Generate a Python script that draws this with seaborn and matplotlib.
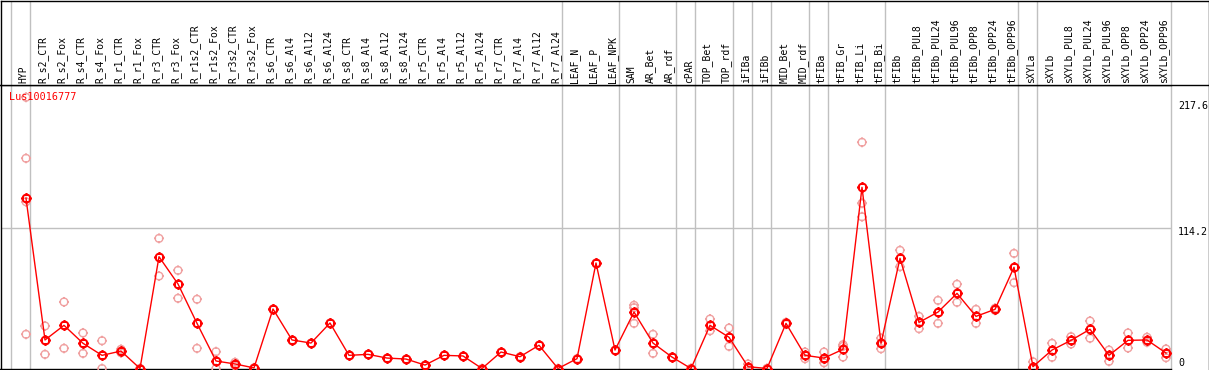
import numpy as np
import pandas as pd
import matplotlib
matplotlib.use("Agg")
import matplotlib.pyplot as plt
from matplotlib.path import Path
from matplotlib.lines import Line2D
import seaborn as sns

nan = np.nan

samples = ["HYP", "R_s2_CTR", "R_s2_Fox", "R_s4_CTR", "R_s4_Fox", "R_r1_CTR", "R_r1_Fox",
           "R_r3_CTR", "R_r3_Fox", "R_r1s2_CTR", "R_r1s2_Fox", "R_r3s2_CTR", "R_r3s2_Fox",
           "R_s6_CTR", "R_s6_Al4", "R_s6_Al12", "R_s6_Al24", "R_s8_CTR", "R_s8_Al4",
           "R_s8_Al12", "R_s8_Al24", "R_r5_CTR", "R_r5_Al4", "R_r5_Al12", "R_r5_Al24",
           "R_r7_CTR", "R_r7_Al4", "R_r7_Al12", "R_r7_Al24", "LEAF_N", "LEAF_P", "LEAF_NPK",
           "SAM", "AR_Bet", "AR_rdf", "cPAR", "TOP_Bet", "TOP_rdf", "iFIBa", "iFIBb",
           "MID_Bet", "MID_rdf", "tFIBa", "tFIB_Gr", "tFIB_Li", "tFIB_Bi", "tFIBb",
           "tFIBb_PUL8", "tFIBb_PUL24", "tFIBb_PUL96", "tFIBb_OPP8", "tFIBb_OPP24",
           "tFIBb_OPP96", "sXYLa", "sXYLb", "sXYLb_PUL8", "sXYLb_PUL24", "sXYLb_PUL96",
           "sXYLb_OPP8", "sXYLb_OPP24", "sXYLb_OPP96"]

mean_vals = [138.4, 23.2, 35.1, 20.5, 10.7, 14.2, 0.0, 90.9, 68.7, 36.7, 6.1, 3.7, 0.5,
             48.4, 23.2, 20.7, 37.0, 10.7, 11.5, 8.5, 7.7, 2.8, 10.7, 10.2, 0.0,
             13.4, 9.6, 18.9, 0.0, 8.0, 85.8, 15.0,
             45.9, 20.7, 9.3, 0.0, 35.1, 25.4, 1.5, 0.0,
             36.7, 10.7, 8.5, 15.6, 147.3, 20.5, 89.6,
             37.5, 45.9, 61.1, 42.4, 48.1, 82.3,
             1.5, 15.0, 22.9, 31.9, 10.7, 22.9, 23.2, 12.6]

rep_1 = [220.5, 34.6, 54.1, 28.9, 22.6, 15.6, 0.0, 105.8, 79.8, 56.3, 13.7, 5.0, 0.5,
         48.4, 23.2, 20.7, 37.0, 10.7, 11.5, 8.5, 7.7, 2.8, 10.7, 10.2, 0.0,
         13.4, 9.6, 18.9, 0.0, 8.0, 85.8, 15.0,
         51.4, 27.8, 9.3, 0.0, 40.2, 32.9, 3.7, 0.0,
         37.5, 13.4, 13.4, 19.4, 183.9, 24.6, 96.1,
         42.4, 55.4, 68.5, 48.1, 49.0, 93.6,
         5.5, 20.5, 25.9, 38.6, 15.0, 28.9, 25.4, 15.9]

rep_2 = [170.9, 11.5, 16.4, 12.3, 0.0, 12.8, 0.0, 75.2, 57.1, 16.4, 0.0, 2.3, 0.5,
         nan, nan, nan, nan, nan, nan, nan, nan, nan, nan, nan, nan,
         nan, nan, nan, nan, nan, nan, nan,
         36.7, 12.3, 9.3, 0.0, 30.7, 18.0, 0.0, 0.0,
         36.0, 8.0, 4.7, 9.3, 134.3, 16.1, 82.8,
         32.4, 36.7, 53.8, 36.7, 47.3, 69.8,
         0.0, 9.1, 19.9, 24.6, 5.8, 16.7, 21.3, 8.8]

rep_3 = [nan] * 61
for k, v in {0: 135.6, 32: 49.5, 42: 7.5, 43: 18.0, 44: 123.4, 45: 20.8}.items():
    rep_3[k] = v
rep_4 = [nan] * 61
rep_4[0] = 27.8

gene_label = "Lus10016777"
y_tick_labels = ["217.6", "114.2", "0"]
grid_value = 114.2
group_ends = [-1, 0, 28, 31, 34, 35, 37, 38, 39, 41, 42, 45, 52, 53]

# ---------------------------------------------------------------- layout
W, H = 1209, 370
fig = plt.figure(figsize=(W / 100, H / 100), dpi=100)
plt.rcParams["font.family"] = ["DejaVu Sans Mono"]

def fx(px):
    return px / W

def fy(py):
    return 1 - py / H

pitch = 19.0
x0px = 26.0
gray = "#c0c0c0"

ax = fig.add_axes([fx(0.5), fy(369), fx(1171) - fx(0.5), fy(85) - fy(369)])
hx = fig.add_axes([fx(0.5), fy(85), fx(1208.5) - fx(0.5), fy(0.5) - fy(85)])

# marker: circle with four small ticks
circ = Path.unit_circle()
tick_paths = [Path([(0.75, 0), (1.3, 0)]), Path([(-0.75, 0), (-1.3, 0)]),
              Path([(0, 0.75), (0, 1.3)]), Path([(0, -0.75), (0, -1.3)])]
mk = Path.make_compound_path(circ, *tick_paths)

pos = np.arange(len(samples))
main_df = pd.DataFrame({"pos": pos, "value": mean_vals})
reps = pd.concat([pd.DataFrame({"pos": pos, "value": r}) for r in (rep_1, rep_2, rep_3, rep_4)])
reps = reps.dropna()

sns.scatterplot(data=reps, x="pos", y="value", marker=mk, s=52, ax=ax,
                linewidth=1.0, zorder=3, legend=False)
sc = ax.collections[-1]
sc.set_facecolor("none")
sc.set_edgecolor("#f0a0a0")
sc.set_clip_on(False)

sns.lineplot(data=main_df, x="pos", y="value", color="#ff0000", linewidth=1.0,
             sort=False, estimator=None, marker=mk, markersize=7.4,
             markerfacecolor="none", markeredgecolor="#ff0000", markeredgewidth=1.4,
             ax=ax, zorder=4, legend=False)
for ln in ax.lines:
    ln.set_clip_on(False)

ax.axhline(grid_value, color=gray, lw=1, zorder=0)
for g in group_ends:
    ax.axvline(g + 0.21, color=gray, lw=1, zorder=0)
    hx.axvline(g + 0.21, color=gray, lw=1, zorder=0)

ax.set_xlim((0.5 - x0px) / pitch, (1171 - x0px) / pitch)
ax.set_ylim(-0.4, 230.5)
ax.set_xticks([])
ax.set_yticks([])
ax.set_xlabel("")
ax.set_ylabel("")
for s in ("left", "bottom", "top"):
    ax.spines[s].set_color("black")
    ax.spines[s].set_linewidth(1)
ax.spines["right"].set_color(gray)
ax.spines["right"].set_linewidth(1)

hx.set_xlim((0.5 - x0px) / pitch, (1208.5 - x0px) / pitch)
hx.set_ylim(0, 1)
hx.set_xticks([])
hx.set_yticks([])
for s in hx.spines.values():
    s.set_color("black")
    s.set_linewidth(1)
hx.axvline((1171 - x0px) / pitch, color=gray, lw=1)
for i, name in enumerate(samples):
    hx.text(i - 0.12, 0.025, name, rotation=90, ha="center", va="bottom",
            fontsize=7, family="DejaVu Sans Mono", color="black")

fig.add_artist(Line2D([fx(1208.5), fx(1208.5)], [fy(85), fy(370)],
                      transform=fig.transFigure, color="black", lw=1))

fig.text(fx(9), fy(97), gene_label, color="#ff0000", fontsize=7.3,
         family="DejaVu Sans Mono", va="center", ha="left")
fig.text(fx(1178), fy(101), y_tick_labels[0], fontsize=7.2, va="top", ha="left")
fig.text(fx(1178), fy(227), y_tick_labels[1], fontsize=7.2, va="top", ha="left")
fig.text(fx(1178), fy(368), y_tick_labels[2], fontsize=7.2, va="bottom", ha="left")

fig.savefig("out.png", dpi=100)
